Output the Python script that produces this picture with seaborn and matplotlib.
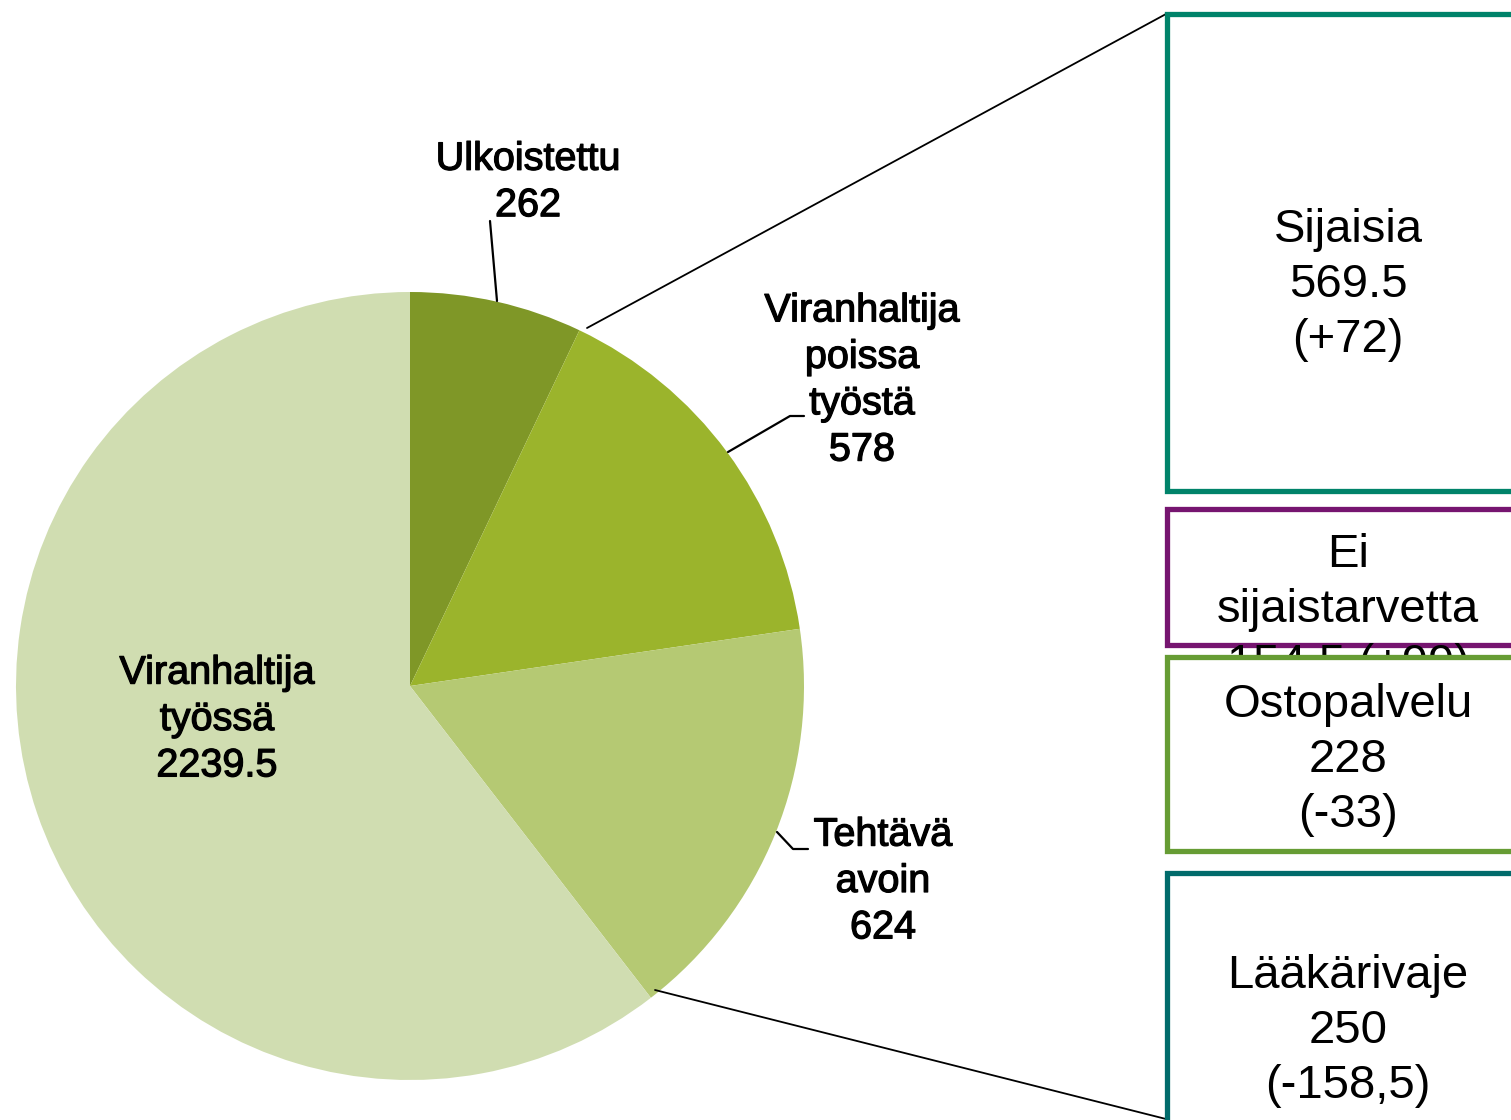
import matplotlib
matplotlib.use('Agg')
import matplotlib.pyplot as plt
import matplotlib.patheffects as pe
from matplotlib.patches import Rectangle
import seaborn as sns

# data
slice_names = ['Ulkoistettu', 'Viranhaltija\npoissa\ntyöstä', 'Tehtävä\navoin', 'Viranhaltija\ntyössä']
slice_values = [262, 578, 624, 2239.5]
slice_value_text = ['262', '578', '624', '2239.5']
slice_colors = ['#7F9727', '#9BB42C', '#B5C973', '#D0DDB1']

box_names = ['Sijaisia', 'Ei\nsijaistarvetta', 'Ostopalvelu', 'Lääkärivaje']
box_values = ['569.5', '154,5', '228', '250']
box_changes = ['(+72)', '(+99)', '(-33)', '(-158,5)']
box_colors = ['#00836A', '#761570', '#669C34', '#016B6B']

sns.set_theme(style='white')
plt.rcParams['font.family'] = ['Liberation Sans', 'DejaVu Sans']

W, H = 1511, 1120
fig = plt.figure(figsize=(W / 100, H / 100), dpi=100)
ax = fig.add_axes([0, 0, 1, 1])


def Y(y):
    # pixel row from the top -> data y
    return H - y


# pie (seaborn has no pie, so matplotlib's one on the seaborn-styled axes)
ax.pie(slice_values, colors=slice_colors, startangle=90, counterclock=False,
       center=(410, Y(686)), radius=394, frame=True,
       wedgeprops=dict(linewidth=0))
ax.set_xlim(0, W)
ax.set_ylim(0, H)
ax.set_aspect('auto')
ax.axis('off')

# pie labels
label_pos = [(528, 182), (862, 380), (883, 881), (217, 719)]
stroke = [pe.withStroke(linewidth=0.9, foreground='black')]
for name, val, (x, y) in zip(slice_names, slice_value_text, label_pos):
    ax.text(x, Y(y), name + '\n' + val, ha='center', va='center',
            fontsize=28.5, linespacing=1.28, color='black', path_effects=stroke)

# leader lines
ax.plot([490, 497], [Y(221), Y(301)], color='black', lw=1.6)
ax.plot([728, 790, 804], [Y(452), Y(416), Y(416)], color='black', lw=1.6)
ax.plot([777, 793, 808], [Y(832), Y(849), Y(849)], color='black', lw=1.6)

# connector lines from pie to the breakdown boxes
ax.plot([587, 1166], [Y(328), Y(14)], color='black', lw=1.3)
ax.plot([655, 1166], [Y(990), Y(1119)], color='black', lw=1.3)

# breakdown boxes
box_rows = [(14, 491), (509, 645), (657, 851), (873, 1220)]
text_rows = [285, 610, 760, 1031]
for i, (name, val, chg, col, (top, bot), ty) in enumerate(
        zip(box_names, box_values, box_changes, box_colors, box_rows, text_rows)):
    z = 2 + 2 * i
    ax.add_patch(Rectangle((1167, Y(bot)), 600, bot - top, facecolor='white',
                           edgecolor=col, linewidth=3.8, zorder=z))
    if name.startswith('Ei'):
        txt = name + '\n' + val + ' ' + chg
    else:
        txt = name + '\n' + val + '\n' + chg
    ax.text(1348, Y(ty), txt, ha='center', va='center', fontsize=34,
            linespacing=1.31, color='black', zorder=z + 1)

fig.savefig('out.png', dpi=100)
